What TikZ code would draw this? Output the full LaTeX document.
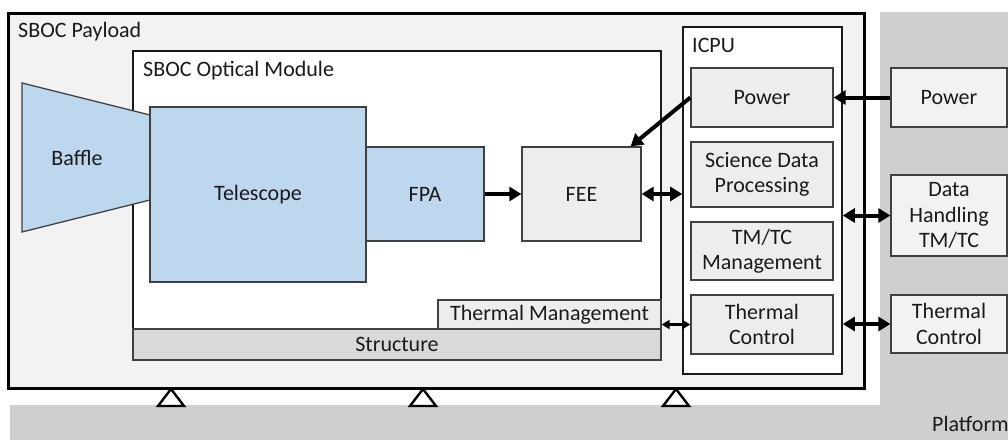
\documentclass[tikz,border=0pt]{standalone}
\usepackage{fontspec}
\setmainfont{Carlito}
\usetikzlibrary{arrows.meta}
\definecolor{paygray}{HTML}{F2F2F2}
\definecolor{unitgray}{HTML}{EDEDED}
\definecolor{optblue}{HTML}{BDD7EE}
\definecolor{structgray}{HTML}{D9D9D9}
\definecolor{platgray}{HTML}{D0CECE}
\definecolor{edgegray}{HTML}{404040}
\definecolor{ink}{HTML}{1A1A1A}
\begin{document}
\begin{tikzpicture}[x=1pt,y=-1pt,
  every node/.style={font=\fontsize{22}{25.5}\selectfont, text=ink},
  frame/.style={draw=ink, line width=1.6pt, inner sep=0pt},
  unit/.style={draw=edgegray, line width=1.3pt, fill=unitgray, inner sep=0pt, align=center},
  optic/.style={draw=edgegray, line width=1.3pt, fill=optblue, inner sep=0pt, align=center},
  extunit/.style={draw=edgegray, line width=1.3pt, fill=paygray, inner sep=0pt, align=center},
  lbl/.style={anchor=base west, inner sep=0pt},
  bigarrow/.style={line width=4pt, -{Triangle[length=12pt,width=14pt]}},
  bigdouble/.style={line width=4pt, {Triangle[length=12pt,width=14pt]}-{Triangle[length=12pt,width=14pt]}},
  smalldouble/.style={line width=2.4pt, {Triangle[length=8pt,width=9pt]}-{Triangle[length=8pt,width=9pt]}},
  mount/.style={draw=black, line width=2.4pt, fill=white, line join=miter}
]
\useasboundingbox (0,0) rectangle (1008,439);

% platform (L-shaped backdrop)
\fill[platgray] (880,12) -- (1010,12) -- (1010,441) -- (10,441) -- (10,405) -- (880,405) -- cycle;
\node[lbl] (platlbl) at (932,431) {Platform};

% payload enclosure
\node[draw=black, line width=3pt, fill=paygray, minimum width=856, minimum height=375, inner sep=0pt] (payload) at (436,200.5) {};
\node[lbl] (paylbl) at (18,37) {SBOC Payload};

% optical module
\node[frame, fill=white, minimum width=528, minimum height=309] (optmod) at (397,205.5) {};
\node[lbl] (optlbl) at (143,76) {SBOC Optical Module};

% baffle
\filldraw[draw=edgegray, line width=1.3pt, fill=optblue] (22,83) -- (150,115) -- (150,200) -- (22,232) -- cycle;
\node (baffle) at (77,158) {Baffle};

% optical chain
\node[optic, minimum width=216, minimum height=175] (tel) at (258,194.5) {Telescope};
\node[optic, minimum width=118, minimum height=94] (fpa) at (425,194) {FPA};
\node[unit, minimum width=119, minimum height=94] (fee) at (581.5,194) {FEE};

% structure and thermal management
\node[unit, fill=structgray, minimum width=528, minimum height=31] (struct) at (397,344.5) {Structure};
\node[unit, minimum width=223, minimum height=29] (tm) at (549.5,314.5) {Thermal Management};

% ICPU
\node[frame, fill=white, minimum width=159, minimum height=347] (icpu) at (762.5,200.5) {};
\node[lbl] (icpulbl) at (692,52) {ICPU};
\node[unit, minimum width=142, minimum height=59] (ipow) at (762,97.5) {Power};
\node[unit, minimum width=142, minimum height=65] (sdp) at (762,174.5) {Science Data\\Processing};
\node[unit, minimum width=142, minimum height=58] (tmtc) at (762,251) {TM/TC\\Management};
\node[unit, minimum width=142, minimum height=59] (itc) at (762,324.5) {Thermal\\Control};

% platform units
\node[extunit, minimum width=116, minimum height=59] (rpow) at (949,97.5) {Power};
\node[extunit, minimum width=116, minimum height=81] (dh) at (949,215.5) {Data\\Handling\\TM/TC};
\node[extunit, minimum width=116, minimum height=58] (rtc) at (949,324) {Thermal\\Control};

% mounting feet
\foreach \mx in {171,423,676}
  \draw[mount] (\mx,389) -- (\mx+13,406) -- (\mx-13,406) -- cycle;

% connections
\draw[bigarrow] (rpow.west) -- (ipow.east);
\draw[bigarrow] (ipow.west) -- ([xshift=-11pt]fee.north east);
\draw[bigarrow] (fpa.east) -- (fee.west);
\draw[bigdouble] (fee.east) -- (fee.east -| icpu.west);
\draw[bigdouble] (icpu.east |- dh.west) -- (dh.west);
\draw[bigdouble] (icpu.east |- rtc.west) -- (rtc.west);
\draw[smalldouble] (tm.east |- itc.west) -- (itc.west);
\end{tikzpicture}
\end{document}
